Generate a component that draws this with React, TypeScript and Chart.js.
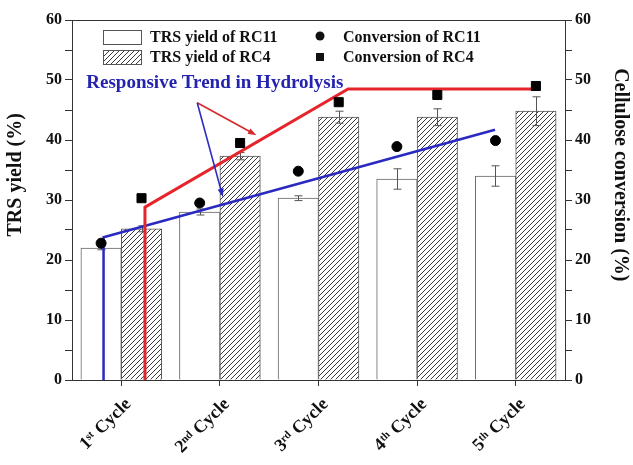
import React, { useEffect, useRef } from "react";
import { Chart, registerables } from "chart.js";

Chart.register(...registerables);

// ---------- data ----------
const categories = ["1ˢᵗ Cycle", "2ⁿᵈ Cycle", "3ʳᵈ Cycle", "4ᵗʰ Cycle", "5ᵗʰ Cycle"];
const trsRC11 = [22.0, 28.0, 30.3, 33.5, 34.0];
const trsRC11Err = [0.3, 0.5, 0.4, 1.7, 1.7];
const trsRC4 = [25.2, 37.3, 43.8, 43.8, 44.8];
const trsRC4Err = [0.5, 0.6, 1.0, 1.4, 2.4];
const convRC11 = [22.8, 29.5, 34.8, 38.9, 39.9];
const convRC4 = [30.3, 39.5, 46.3, 47.5, 49.0];
// trend lines (x in category-index units, y in %)
const redTrendX = [0.24, 0.24, 2.3, 4.2];
const redTrendY = [0, 28.8, 48.5, 48.5];
const blueTrendX = [-0.18, -0.18, 3.79];
const blueTrendY = [0, 23.8, 41.7];
// annotation text + arrows (x in category-index units, y in %)
const annotText = "Responsive Trend in Hydrolysis";
const annotPos = [-0.355, 49.5];
const arrowStart = [0.77, 46.2];
const redArrowEnd = [1.37, 40.8];
const blueArrowEnd = [1.03, 30.5];
const legendLabels = ["TRS yield of RC11", "TRS yield of RC4", "Conversion of RC11", "Conversion of RC4"];
const yTitle = "TRS yield (%)";
const y1Title = "Cellulose conversion (%)";

const SERIF = '"Liberation Serif", "Times New Roman", "DejaVu Serif", serif';
const BAR_SHIFT = 0.205; // half a bar, in category units
const RED = "#e5242b";
const BLUE = "#2a2ac2";
const AXIS = "#333";

function drawArrow(ctx: CanvasRenderingContext2D, x0: number, y0: number, x1: number, y1: number, color: string) {
  const ang = Math.atan2(y1 - y0, x1 - x0);
  const L = 9;
  ctx.save();
  ctx.strokeStyle = color;
  ctx.fillStyle = color;
  ctx.lineWidth = 1.6;
  ctx.beginPath();
  ctx.moveTo(x0, y0);
  ctx.lineTo(x1 - Math.cos(ang) * 4, y1 - Math.sin(ang) * 4);
  ctx.stroke();
  ctx.beginPath();
  ctx.moveTo(x1, y1);
  ctx.lineTo(x1 - L * Math.cos(ang - 0.35), y1 - L * Math.sin(ang - 0.35));
  ctx.lineTo(x1 - L * Math.cos(ang + 0.35), y1 - L * Math.sin(ang + 0.35));
  ctx.closePath();
  ctx.fill();
  ctx.restore();
}

export default function App() {
  const ref = useRef<HTMLCanvasElement>(null);

  useEffect(() => {
    const canvas = ref.current!;
    const tile = document.createElement("canvas");
    tile.width = 5;
    tile.height = 5;
    const t = tile.getContext("2d")!;
    t.fillStyle = "#fff";
    t.fillRect(0, 0, 5, 5);
    t.strokeStyle = "#3a3a3a";
    t.lineWidth = 1;
    t.beginPath();
    t.moveTo(0, 5);
    t.lineTo(5, 0);
    t.moveTo(-1, 1);
    t.lineTo(1, -1);
    t.moveTo(4, 6);
    t.lineTo(6, 4);
    t.stroke();
    const hatch = canvas.getContext("2d")!.createPattern(tile, "repeat")!;

    const errorBarPlugin = {
      id: "errorBars",
      afterDatasetDraw(chart: any, args: any) {
        const errs = args.index === 0 ? trsRC11Err : args.index === 1 ? trsRC4Err : null;
        if (!errs) return;
        const ys = chart.scales.y;
        const ctx = chart.ctx as CanvasRenderingContext2D;
        const vals = args.index === 0 ? trsRC11 : trsRC4;
        args.meta.data.forEach((bar: any, i: number) => {
          const e = errs[i];
          if (!e) return;
          const x = Math.round(bar.x) + 0.5;
          const top = ys.getPixelForValue(vals[i] + e);
          const bot = ys.getPixelForValue(vals[i] - e);
          ctx.save();
          ctx.strokeStyle = "#555";
          ctx.lineWidth = 1;
          ctx.beginPath();
          ctx.moveTo(x, top);
          ctx.lineTo(x, bot);
          ctx.moveTo(x - 4, top);
          ctx.lineTo(x + 4, top);
          ctx.moveTo(x - 4, bot);
          ctx.lineTo(x + 4, bot);
          ctx.stroke();
          ctx.restore();
        });
      },
    };

    const decorPlugin = {
      id: "decor",
      afterDraw(chart: any) {
        const ctx = chart.ctx as CanvasRenderingContext2D;
        const ca = chart.chartArea;
        const xs = chart.scales.x2;
        const ys = chart.scales.y1;
        ctx.save();
        // top frame line
        ctx.strokeStyle = AXIS;
        ctx.lineWidth = 1;
        ctx.beginPath();
        ctx.moveTo(ca.left, ca.top + 0.5);
        ctx.lineTo(ca.right, ca.top + 0.5);
        ctx.stroke();

        // annotation text
        ctx.fillStyle = "#2323b0";
        ctx.font = `bold 19px ${SERIF}`;
        ctx.textAlign = "left";
        ctx.textBaseline = "middle";
        ctx.fillText(annotText, xs.getPixelForValue(annotPos[0]), ys.getPixelForValue(annotPos[1]));

        // arrows
        const sx = xs.getPixelForValue(arrowStart[0]);
        const sy = ys.getPixelForValue(arrowStart[1]);
        drawArrow(ctx, sx, sy, xs.getPixelForValue(redArrowEnd[0]), ys.getPixelForValue(redArrowEnd[1]), "#d42a2a");
        drawArrow(ctx, sx, sy, xs.getPixelForValue(blueArrowEnd[0]), ys.getPixelForValue(blueArrowEnd[1]), BLUE);

        // legend
        ctx.font = `bold 16px ${SERIF}`;
        ctx.textBaseline = "middle";
        const lx = ca.left + 31;
        const r1 = ca.top + 17;
        const r2 = ca.top + 37;
        ctx.fillStyle = "#fff";
        ctx.fillRect(lx, r1 - 7, 38, 14);
        ctx.strokeStyle = "#555";
        ctx.strokeRect(lx + 0.5, r1 - 7 + 0.5, 38, 14);
        ctx.fillStyle = hatch;
        ctx.fillRect(lx, r2 - 7, 38, 14);
        ctx.strokeRect(lx + 0.5, r2 - 7 + 0.5, 38, 14);
        ctx.fillStyle = "#111";
        ctx.fillText(legendLabels[0], lx + 47, r1 + 1);
        ctx.fillText(legendLabels[1], lx + 47, r2 + 1);
        const cx = ca.left + 248;
        ctx.beginPath();
        ctx.arc(cx, r1 - 1, 4.5, 0, Math.PI * 2);
        ctx.fill();
        ctx.fillRect(cx - 4, r2 - 4, 8, 8);
        ctx.fillText(legendLabels[2], cx + 23, r1 + 1);
        ctx.fillText(legendLabels[3], cx + 23, r2 + 1);

        // axis titles
        ctx.font = `bold 20px ${SERIF}`;
        ctx.textAlign = "center";
        ctx.fillStyle = "#111";
        const cy = ca.top + (ca.bottom - ca.top) * 0.43;
        ctx.save();
        ctx.translate(16, cy);
        ctx.rotate(-Math.PI / 2);
        ctx.fillText(yTitle, 0, 0);
        ctx.restore();
        ctx.save();
        ctx.translate(chart.width - 13, cy);
        ctx.rotate(Math.PI / 2);
        ctx.fillText(y1Title, 0, 0);
        ctx.restore();
        ctx.restore();
      },
    };

    const tickFont = { family: SERIF, size: 16, weight: "bold" as const };
    const xTickFont = { family: SERIF, size: 18, weight: "bold" as const };
    const yTickCb = (v: any) => (Number(v) % 10 === 0 ? String(v) : "");

    const chart = new Chart(canvas, {
      type: "bar",
      data: {
        labels: categories,
        datasets: [
          {
            type: "bar",
            label: legendLabels[0],
            data: trsRC11.map((v, i) => ({ x: i - BAR_SHIFT, y: v })),
            backgroundColor: "#ffffff",
            borderColor: "#666",
            borderWidth: 1,
            xAxisID: "x2",
            yAxisID: "y",
            order: 3,
            grouped: false,
            categoryPercentage: 1,
            barPercentage: 1,
          } as any,
          {
            type: "bar",
            label: legendLabels[1],
            data: trsRC4.map((v, i) => ({ x: i + BAR_SHIFT, y: v })),
            backgroundColor: hatch,
            borderColor: "#555",
            borderWidth: 1,
            xAxisID: "x2",
            yAxisID: "y",
            order: 3,
            grouped: false,
            categoryPercentage: 1,
            barPercentage: 1,
          } as any,
          {
            type: "scatter",
            label: legendLabels[2],
            data: convRC11.map((v, i) => ({ x: i - BAR_SHIFT, y: v })),
            backgroundColor: "#000",
            borderColor: "#000",
            pointStyle: "circle",
            pointRadius: 5,
            xAxisID: "x2",
            yAxisID: "y1",
            order: 0,
          } as any,
          {
            type: "scatter",
            label: legendLabels[3],
            data: convRC4.map((v, i) => ({ x: i + BAR_SHIFT, y: v })),
            backgroundColor: "#000",
            borderColor: "#000",
            pointStyle: "rect",
            pointRadius: 6.4,
            xAxisID: "x2",
            yAxisID: "y1",
            order: 0,
          } as any,
          {
            type: "line",
            label: "red trend",
            data: redTrendX.map((x, i) => ({ x, y: redTrendY[i] })),
            borderColor: RED,
            borderWidth: 3,
            pointRadius: 0,
            fill: false,
            tension: 0,
            xAxisID: "x2",
            yAxisID: "y1",
            order: 1,
          } as any,
          {
            type: "line",
            label: "blue trend",
            data: blueTrendX.map((x, i) => ({ x, y: blueTrendY[i] })),
            borderColor: BLUE,
            borderWidth: 2.5,
            pointRadius: 0,
            fill: false,
            tension: 0,
            xAxisID: "x2",
            yAxisID: "y1",
            order: 1,
          } as any,
        ],
      },
      options: {
        responsive: false,
        animation: false,
        layout: { padding: { top: 20, left: 0, right: 0, bottom: 0 } },
        plugins: { legend: { display: false }, tooltip: { enabled: false } },
        scales: {
          x: {
            type: "category",
            offset: true,
            grid: { display: true, drawOnChartArea: false, offset: false, tickLength: 6, color: AXIS },
            border: { display: true, color: AXIS, width: 1 },
            ticks: { color: "#111", font: xTickFont, maxRotation: 45, minRotation: 45, padding: 8, labelOffset: 7 },
            afterFit: (s: any) => {
              s.height = 85;
            },
          },
          x2: {
            type: "linear",
            display: false,
            offset: false,
            min: -0.5,
            max: 4.5,
            grid: { offset: false },
            ticks: { stepSize: 1 },
          },
          y: {
            type: "linear",
            position: "left",
            min: 0,
            max: 60,
            grid: { display: true, drawOnChartArea: false, tickLength: 7, color: AXIS },
            border: { display: true, color: AXIS, width: 1 },
            ticks: { stepSize: 5, callback: yTickCb, color: "#111", font: tickFont, padding: 3 },
            afterFit: (s: any) => {
              s.width = 72;
            },
          },
          y1: {
            type: "linear",
            position: "right",
            min: 0,
            max: 60,
            grid: { display: true, drawOnChartArea: false, tickLength: 7, color: AXIS },
            border: { display: true, color: AXIS, width: 1 },
            ticks: { stepSize: 5, callback: yTickCb, color: "#111", font: tickFont, padding: 3 },
            afterFit: (s: any) => {
              s.width = 68;
            },
          },
        },
      },
      plugins: [errorBarPlugin, decorPlugin],
    });
    return () => chart.destroy();
  }, []);

  return (
    <div style={{ position: "fixed", left: 0, top: 0, width: 633, height: 465, background: "#fff" }}>
      <canvas ref={ref} width={633} height={465} style={{ display: "block" }} />
    </div>
  );
}
